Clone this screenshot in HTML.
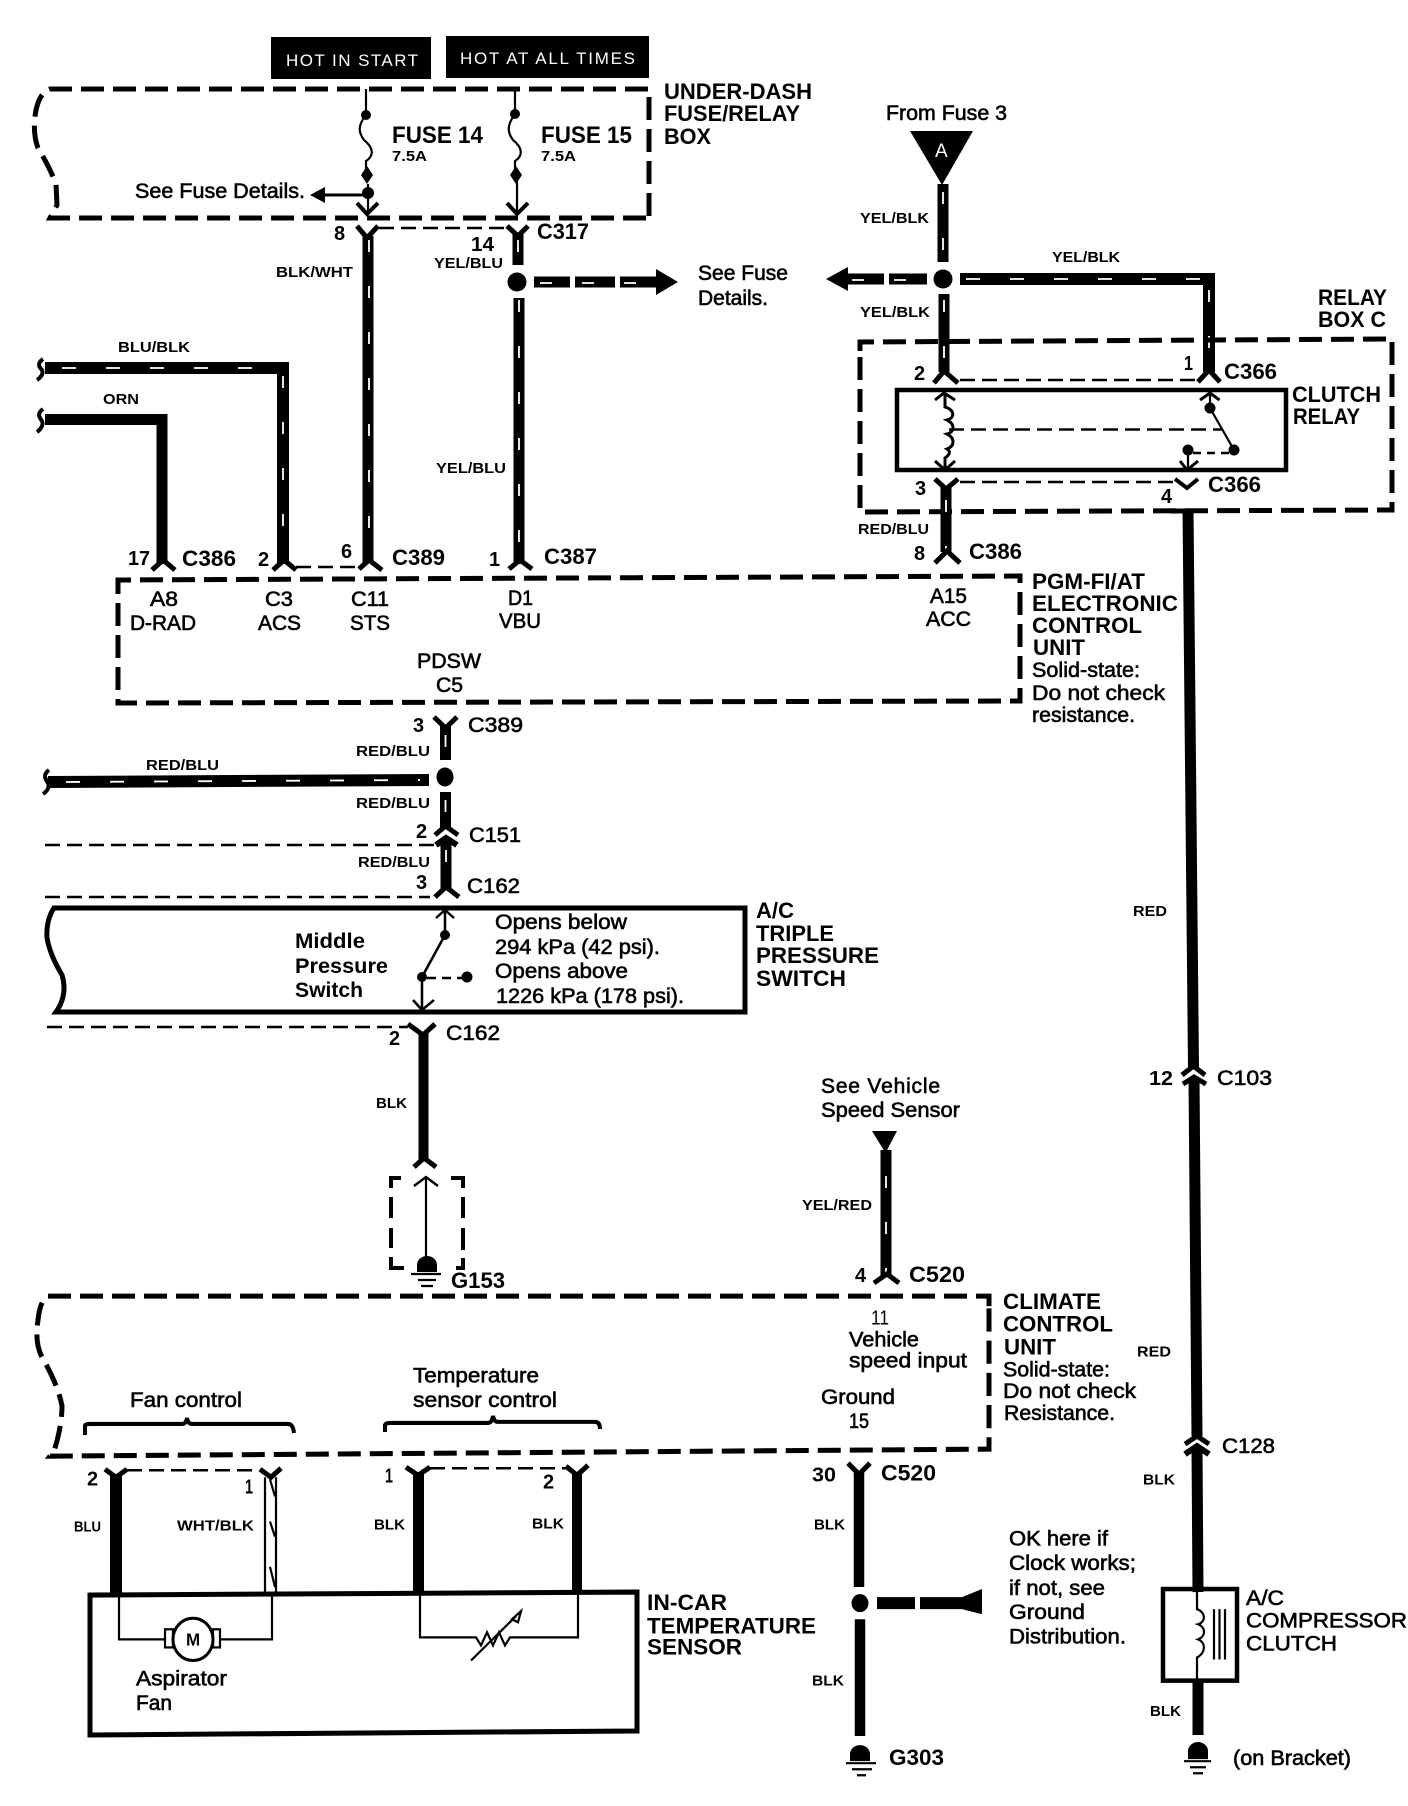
<!DOCTYPE html>
<html><head><meta charset="utf-8"><style>
html,body{margin:0;padding:0;background:#fff}
svg{display:block}
text{font-family:"Liberation Sans",sans-serif;fill:#000;font-size:21px}
.b{font-weight:bold;font-size:22px}
.l{font-weight:bold;font-size:15px}
.n{font-weight:bold;font-size:20px}
.r{stroke:#000;stroke-width:.6px}
.w{stroke:#000;stroke-width:11;fill:none}
.s{stroke:#fff;stroke-width:1.800;fill:none;stroke-dasharray:12 34}
.c{stroke:#000;stroke-width:4;fill:none}
.t{stroke:#000;stroke-width:2.2;fill:none}
.d{stroke:#000;stroke-width:5;fill:none;stroke-dasharray:23 9}
.h{stroke:#000;stroke-width:2.5;fill:none;stroke-dasharray:15 7}
.k{stroke:#000;stroke-width:4.5;fill:none}
</style></head><body>
<svg width="1408" height="1806" viewBox="0 0 1408 1806" xmlns="http://www.w3.org/2000/svg">
<rect width="1408" height="1806" fill="#fff"/>

<!-- header tags -->
<rect x="271" y="37" width="160" height="42"/>
<rect x="446" y="36" width="203" height="42"/>
<text x="286" y="66" style="fill:#fff;font-size:17px" textLength="132" lengthAdjust="spacing">HOT IN  START</text>
<text x="460" y="64" style="fill:#fff;font-size:17px" textLength="175" lengthAdjust="spacing">HOT AT ALL TIMES</text>

<!-- fuse box -->
<path class="d" d="M649 216 V89 H50 Q40 92 36 110 Q32 132 38 148 Q50 168 56 184 L57 205 L50 218 H649"/>
<path class="t" d="M366 89 V115 C358 125 358 132 364 140 C374 148 374 156 366 161 V175"/>
<circle cx="366" cy="115" r="5"/><path d="M367 166 l6 9 l-6 9 l-6 -9z"/><circle cx="368" cy="193" r="6"/>
<path class="t" d="M368 184 V214"/>
<path class="c" d="M357 203 L367 214 L378 203"/>
<path class="t" d="M515 89 V114 C507 125 507 132 513 140 C523 148 523 156 515 161 V175 M517 175 V214"/>
<circle cx="515" cy="114" r="5"/><path d="M516 166 l6 9 l-6 9 l-6 -9z"/>
<path class="c" d="M507 203 L517 214 L528 203"/>
<path d="M366 193.500 H325 V187 L310 195 L325 203 V196.500 H366z"/>
<text x="135" y="198" class="r" textLength="170" lengthAdjust="spacingAndGlyphs">See Fuse Details.</text>
<text x="392" y="143" style="font-weight:bold;font-size:24px" textLength="91" lengthAdjust="spacingAndGlyphs">FUSE 14</text>
<text x="392" y="161" style="font-weight:bold;font-size:15px" textLength="35" lengthAdjust="spacingAndGlyphs">7.5A</text>
<text x="541" y="143" style="font-weight:bold;font-size:24px" textLength="91" lengthAdjust="spacingAndGlyphs">FUSE 15</text>
<text x="541" y="161" style="font-weight:bold;font-size:15px" textLength="35" lengthAdjust="spacingAndGlyphs">7.5A</text>
<text x="664" y="99" class="b" textLength="148" lengthAdjust="spacingAndGlyphs">UNDER-DASH</text>
<text x="664" y="121" class="b" textLength="136" lengthAdjust="spacingAndGlyphs">FUSE/RELAY</text>
<text x="664" y="144" class="b" textLength="47" lengthAdjust="spacingAndGlyphs">BOX</text>

<!-- C317 -->
<path class="h" d="M379 228 H507"/>
<path class="c" style="stroke-width:5" d="M357 226 L367 238 L378 226"/>
<path class="c" style="stroke-width:5" d="M507 226 L518 236 L528 226"/>
<path class="w" d="M368 236 V564"/><path class="s" d="M369 240 V564"/>
<path class="w" d="M518 234 V265"/><path class="s" d="M518 240 V265"/>
<circle cx="517" cy="282" r="9.500"/>
<path class="w" d="M519 298 V564"/><path class="s" d="M519 300 V564"/>
<path d="M534 276.500 H570 V287.500 H534z M575 276.500 H615 V287.500 H575z M620 276.500 H656 V269 L678 282 L656 295 V287.500 H620z"/>
<path class="s" style="stroke-dasharray:12 30" d="M540 283 H650"/>
<text x="698" y="280" class="r" textLength="90" lengthAdjust="spacingAndGlyphs">See Fuse</text>
<text x="698" y="305" class="r" textLength="70" lengthAdjust="spacingAndGlyphs">Details.</text>
<text x="334" y="240" class="n">8</text>
<text x="471" y="251" class="n" textLength="23" lengthAdjust="spacingAndGlyphs">14</text>
<text x="537" y="239" class="b" textLength="52" lengthAdjust="spacingAndGlyphs">C317</text>
<text x="434" y="268" class="l" textLength="69" lengthAdjust="spacingAndGlyphs">YEL/BLU</text>
<text x="276" y="277" class="l" textLength="77" lengthAdjust="spacingAndGlyphs">BLK/WHT</text>
<text x="436" y="473" class="l" textLength="70" lengthAdjust="spacingAndGlyphs">YEL/BLU</text>

<!-- left wires -->
<path class="w" style="stroke-width:12" d="M45 368 H283 V564"/>
<path class="s" style="stroke-dasharray:14 30" d="M62 368 H270"/><path class="s" d="M283 376 V564"/>
<path class="c" d="M43 359 C36 364 40 368 42 370 C44 374 40 378 37 380"/>
<path class="w" d="M45 419.500 H162 V564"/>
<path class="c" d="M43 409 C36 414 40 418 42 421 C44 425 40 430 37 432"/>
<text x="118" y="352" class="l" textLength="72" lengthAdjust="spacingAndGlyphs">BLU/BLK</text>
<text x="103" y="404" class="l" textLength="36" lengthAdjust="spacingAndGlyphs">ORN</text>
<path class="c" style="stroke-width:5" d="M152 570 L163 560 L175 570"/>
<path class="c" style="stroke-width:5" d="M273 570 L284 560 L296 570"/>
<path class="c" style="stroke-width:5" d="M359 569 L369 560 L382 570"/>
<path class="c" style="stroke-width:5" d="M509 569 L520 560 L532 569"/>
<path class="h" d="M296 567 H363"/>
<text x="128" y="565" class="n" textLength="22" lengthAdjust="spacingAndGlyphs">17</text>
<text x="182" y="566" class="b" textLength="54" lengthAdjust="spacingAndGlyphs">C386</text>
<text x="258" y="566" class="n">2</text>
<text x="341" y="558" class="n">6</text>
<text x="392" y="565" class="b" textLength="53" lengthAdjust="spacingAndGlyphs">C389</text>
<text x="489" y="566" class="n">1</text>
<text x="544" y="564" class="b" textLength="53" lengthAdjust="spacingAndGlyphs">C387</text>

<!-- ECU -->
<path class="d" d="M118 590 V580 L1020 576 V701 L118 703 V590"/>
<text x="150" y="606" class="r" textLength="28" lengthAdjust="spacingAndGlyphs">A8</text>
<text x="130" y="630" class="r" textLength="66" lengthAdjust="spacingAndGlyphs">D-RAD</text>
<text x="265" y="606" class="r" textLength="28" lengthAdjust="spacingAndGlyphs">C3</text>
<text x="258" y="630" class="r" textLength="43" lengthAdjust="spacingAndGlyphs">ACS</text>
<text x="351" y="606" class="r" textLength="38" lengthAdjust="spacingAndGlyphs">C11</text>
<text x="350" y="630" class="r" textLength="40" lengthAdjust="spacingAndGlyphs">STS</text>
<text x="508" y="605" class="r" textLength="25" lengthAdjust="spacingAndGlyphs">D1</text>
<text x="499" y="628" class="r" textLength="42" lengthAdjust="spacingAndGlyphs">VBU</text>
<text x="417" y="668" class="r" textLength="64" lengthAdjust="spacingAndGlyphs">PDSW</text>
<text x="436" y="692" class="r" textLength="27" lengthAdjust="spacingAndGlyphs">C5</text>
<text x="930" y="603" class="r" textLength="37" lengthAdjust="spacingAndGlyphs">A15</text>
<text x="926" y="626" class="r" textLength="45" lengthAdjust="spacingAndGlyphs">ACC</text>
<text x="1032" y="589" class="b" textLength="113" lengthAdjust="spacingAndGlyphs">PGM-FI/AT</text>
<text x="1032" y="611" class="b" textLength="146" lengthAdjust="spacingAndGlyphs">ELECTRONIC</text>
<text x="1032" y="633" class="b" textLength="110" lengthAdjust="spacingAndGlyphs">CONTROL</text>
<text x="1033" y="655" class="b" textLength="52" lengthAdjust="spacingAndGlyphs">UNIT</text>
<text x="1032" y="677" class="r" textLength="108" lengthAdjust="spacingAndGlyphs">Solid-state:</text>
<text x="1032" y="700" class="r" textLength="133" lengthAdjust="spacingAndGlyphs">Do not check</text>
<text x="1032" y="722" class="r" textLength="103" lengthAdjust="spacingAndGlyphs">resistance.</text>

<!-- From fuse 3 -->
<text x="886" y="120" class="r" textLength="121" lengthAdjust="spacingAndGlyphs">From Fuse 3</text>
<path d="M910 131 H973 L942 185z"/>
<text x="935" y="157" style="fill:#fff;font-size:19px">A</text>
<path class="w" d="M943 184 V262"/><path class="s" d="M943 192 V262"/>
<circle cx="943" cy="279" r="9.500"/>
<path d="M826 279 L848 267 V273.500 H884 V284.500 H848 V291z M889 273.500 H927 V284.500 H889z"/>
<path class="s" style="stroke-dasharray:12 30" d="M852 280 H925"/>
<path class="w" style="stroke-width:12" d="M960 279 H1209 V372"/>
<path class="s" style="stroke-dasharray:14 30" d="M966 279 H1200"/><path class="s" d="M1209 290 V372"/>
<path class="w" d="M944 294 V372"/><path class="s" d="M944 300 V372"/>
<path class="c" style="stroke-width:5" d="M934 383 L944 371 L958 383"/>
<path class="c" style="stroke-width:5" d="M1198 382 L1209 370 L1220 382"/>
<path class="h" d="M960 380 H1198"/>
<text x="860" y="223" class="l" textLength="69" lengthAdjust="spacingAndGlyphs">YEL/BLK</text>
<text x="1052" y="262" class="l" textLength="68" lengthAdjust="spacingAndGlyphs">YEL/BLK</text>
<text x="860" y="317" class="l" textLength="70" lengthAdjust="spacingAndGlyphs">YEL/BLK</text>

<!-- relay box -->
<path class="d" d="M860 351 V342 L1392 339 V510 L860 512 V351"/>
<text x="1318" y="305" class="b" textLength="69" lengthAdjust="spacingAndGlyphs">RELAY</text>
<text x="1318" y="327" class="b" textLength="68" lengthAdjust="spacingAndGlyphs">BOX C</text>
<rect class="k" x="897" y="390" width="389" height="80"/>
<text x="1292" y="402" class="b" textLength="89" lengthAdjust="spacingAndGlyphs">CLUTCH</text>
<text x="1293" y="424" class="b" textLength="67" lengthAdjust="spacingAndGlyphs">RELAY</text>
<path class="c" style="stroke-width:3" d="M935 400 L944 393 L955 400 M935 461 L945 470 L955 461"/>
<path class="t" style="stroke-width:3" d="M945 393 V407 C955 410 955 418 947 420 C955 424 955 432 947 434 C955 438 955 446 947 449 C952 452 948 456 945 458 V469"/>
<path class="h" d="M949 429.500 H1222"/>
<path class="c" style="stroke-width:3" d="M1200 400 L1210 393 L1219.500 400 M1180 461 L1187 470 L1198 461"/>
<path class="t" d="M1210 393 V408 L1234 450"/>
<circle cx="1210" cy="408" r="5.500"/><circle cx="1234" cy="450" r="5.500"/><circle cx="1188" cy="450" r="5.500"/>
<path class="t" d="M1188 450 V468"/>
<path class="h" style="stroke-dasharray:8 6" d="M1193 453 H1230"/>
<text x="914" y="380" class="n">2</text>
<text x="1184" y="370" class="n" textLength="9" lengthAdjust="spacingAndGlyphs">1</text>
<text x="1224" y="379" class="b" textLength="53" lengthAdjust="spacingAndGlyphs">C366</text>
<text x="915" y="495" class="n">3</text>
<text x="1208" y="492" class="b" textLength="53" lengthAdjust="spacingAndGlyphs">C366</text>
<text x="1161" y="503" class="n">4</text>
<path class="c" style="stroke-width:5" d="M935 479 L946 489 L958 479"/>
<path class="h" d="M960 482 H1175"/>
<path class="c" d="M1175 479 L1187 488 L1198 479"/>
<path class="w" d="M946 487 V552"/><path class="s" d="M946 500 V552"/>
<path class="c" style="stroke-width:5" d="M935 563 L947 551 L960 563"/>
<text x="858" y="534" class="l" textLength="71" lengthAdjust="spacingAndGlyphs">RED/BLU</text>
<text x="914" y="560" class="n">8</text>
<text x="969" y="559" class="b" textLength="53" lengthAdjust="spacingAndGlyphs">C386</text>

<!-- RED wire upper -->
<path class="t" style="stroke-width:5" d="M1170 511 H1188"/>
<path class="w" d="M1188 509 L1193.500 1068"/>
<path class="c" style="stroke-width:5" d="M1182 1075 L1193.500 1066 L1205 1075"/>
<path class="c" style="stroke-width:5" d="M1183 1084 L1194 1077 L1206 1084"/>
<path class="w" d="M1194 1079 L1197 1436"/>
<text x="1133" y="916" class="l" textLength="34" lengthAdjust="spacingAndGlyphs">RED</text>
<text x="1149" y="1085" class="n" textLength="24" lengthAdjust="spacingAndGlyphs">12</text>
<text x="1217" y="1085" class="r" textLength="55" lengthAdjust="spacingAndGlyphs">C103</text>

<!-- C389 lower -->
<path class="c" style="stroke-width:5" d="M434 717 L445.500 728 L457 717"/>
<path class="w" d="M445.500 726 V760"/><path class="s" d="M445.500 735 V760"/>
<ellipse cx="445" cy="777" rx="8.500" ry="9.500"/>
<path class="w" style="stroke-width:12" d="M48 782 L429 780"/>
<path class="s" style="stroke-dasharray:14 30" d="M66 782 L420 780"/>
<path class="c" d="M49 770 C42 775 46 780 48 783 C50 788 46 792 43 794"/>
<text x="413" y="732" class="n">3</text>
<text x="468" y="732" class="r" textLength="55" lengthAdjust="spacingAndGlyphs">C389</text>
<text x="356" y="756" class="l" textLength="74" lengthAdjust="spacingAndGlyphs">RED/BLU</text>
<text x="146" y="770" class="l" textLength="73" lengthAdjust="spacingAndGlyphs">RED/BLU</text>
<text x="356" y="808" class="l" textLength="74" lengthAdjust="spacingAndGlyphs">RED/BLU</text>
<path class="w" d="M445.500 792 V828"/><path class="s" d="M445.500 800 V828"/>
<path class="c" style="stroke-width:5" d="M435 835 L445.500 826 L458 835"/>
<text x="416" y="838" class="n">2</text>
<text x="469" y="842" class="r" textLength="52" lengthAdjust="spacingAndGlyphs">C151</text>
<path class="c" style="stroke-width:6" d="M436 845 L446 838 L457 845"/>
<path class="w" d="M446 840 V890"/><path class="s" d="M446 850 V890"/>
<path class="c" style="stroke-width:5" d="M435 897 L446 887 L459 897"/>
<text x="358" y="867" class="l" textLength="72" lengthAdjust="spacingAndGlyphs">RED/BLU</text>
<text x="416" y="889" class="n">3</text>
<text x="467" y="893" class="r" textLength="53" lengthAdjust="spacingAndGlyphs">C162</text>
<path class="h" d="M45 845 H436"/>
<path class="h" d="M45 897 H430"/>

<!-- triple switch -->
<path class="k" style="stroke-width:5" d="M745 908 H54 Q46 920 47 938 Q50 955 62 975 Q68 995 56 1012 H745z"/>
<path class="c" style="stroke-width:2.500" d="M436 918 L445 910 L454 918"/>
<path class="t" style="stroke-width:2.500" d="M445 910 V935 L422 977 V1009"/>
<circle cx="445" cy="935" r="5"/><circle cx="422" cy="977" r="5"/><circle cx="467" cy="977" r="5.500"/>
<path class="h" style="stroke-dasharray:9 6" d="M427 978 H463"/>
<path class="c" style="stroke-width:2.500" d="M413 1000 L422 1010 L434 1000"/>
<text x="295" y="948" class="b" style="font-size:21px" textLength="70" lengthAdjust="spacingAndGlyphs">Middle</text>
<text x="295" y="973" class="b" style="font-size:21px" textLength="93" lengthAdjust="spacingAndGlyphs">Pressure</text>
<text x="295" y="997" class="b" style="font-size:21px" textLength="68" lengthAdjust="spacingAndGlyphs">Switch</text>
<text x="495" y="929" class="r" textLength="132" lengthAdjust="spacingAndGlyphs">Opens below</text>
<text x="495" y="954" class="r" textLength="165" lengthAdjust="spacingAndGlyphs">294 kPa (42 psi).</text>
<text x="495" y="978" class="r" textLength="133" lengthAdjust="spacingAndGlyphs">Opens above</text>
<text x="496" y="1003" class="r" textLength="188" lengthAdjust="spacingAndGlyphs">1226 kPa (178 psi).</text>
<text x="756" y="918" class="b" textLength="38" lengthAdjust="spacingAndGlyphs">A/C</text>
<text x="756" y="941" class="b" textLength="78" lengthAdjust="spacingAndGlyphs">TRIPLE</text>
<text x="756" y="963" class="b" textLength="123" lengthAdjust="spacingAndGlyphs">PRESSURE</text>
<text x="756" y="986" class="b" textLength="90" lengthAdjust="spacingAndGlyphs">SWITCH</text>

<!-- C162 below -->
<path class="h" d="M47 1027 H408"/>
<path class="c" style="stroke-width:5" d="M408 1024 L423 1035 L435 1024"/>
<path class="w" style="stroke-width:10" d="M423.500 1032 V1161"/>
<path class="c" style="stroke-width:5" d="M414 1167 L424 1158 L436 1167"/>
<text x="389" y="1045" class="n">2</text>
<text x="446" y="1040" class="r" textLength="54" lengthAdjust="spacingAndGlyphs">C162</text>
<text x="376" y="1108" class="l" textLength="31" lengthAdjust="spacingAndGlyphs">BLK</text>
<path class="c" d="M391 1188 V1178 H401 M391 1197 V1218 M391 1228 V1248 M391 1257 V1268 H404 M451 1178 H463 V1188 M463 1197 V1218 M463 1228 V1250 M463 1258 V1268 H456"/>
<path class="c" style="stroke-width:2.500" d="M414 1186 L426 1177 L438 1186"/>
<path class="t" d="M426 1177 V1260"/>
<path d="M417 1272 V1265 A10 9 0 0 1 437 1265 V1272z"/>
<path class="t" d="M411 1274 H441 M418 1280 H436 M421 1286 H433"/>
<text x="451" y="1288" class="b" textLength="54" lengthAdjust="spacingAndGlyphs">G153</text>

<!-- speed -->
<text x="821" y="1093" class="r" textLength="119" lengthAdjust="spacing">See  Vehicle</text>
<text x="821" y="1117" class="r" textLength="139" lengthAdjust="spacingAndGlyphs">Speed Sensor</text>
<path d="M872 1131 H897 L885.500 1153z"/>
<path class="w" d="M886 1150 V1277"/><path class="s" d="M886 1176 V1277"/>
<path class="c" style="stroke-width:5" d="M874 1283 L887 1274 L899 1283"/>
<text x="802" y="1210" class="l" textLength="70" lengthAdjust="spacingAndGlyphs">YEL/RED</text>
<text x="855" y="1282" class="n">4</text>
<text x="909" y="1282" class="b" textLength="56" lengthAdjust="spacingAndGlyphs">C520</text>

<!-- lower region: slight vertical correction -->
<g transform="translate(0,-8.600) scale(1,1.0067)">
<path class="c" style="stroke-width:5" d="M1185 1443 L1197 1435 L1209 1443"/>
<path class="c" style="stroke-width:6" d="M1185 1453 L1197 1445 L1209 1453"/>
<path class="w" d="M1197 1447 L1198 1590"/>
<path class="w" d="M1198 1678 V1732"/>
<text x="1137" y="1356" class="l" textLength="34" lengthAdjust="spacingAndGlyphs">RED</text>
<text x="1143" y="1483" class="l" textLength="32" lengthAdjust="spacingAndGlyphs">BLK</text>
<text x="1222" y="1452" class="r" textLength="53" lengthAdjust="spacingAndGlyphs">C128</text>

<!-- compressor -->
<rect class="k" x="1163" y="1587" width="74" height="91"/>
<path class="t" d="M1197 1587 V1607 C1206 1610 1206 1620 1198 1622 C1206 1625 1206 1634 1198 1637 C1206 1640 1206 1650 1197 1655 V1678"/>
<path class="t" d="M1214 1607 V1657 M1219.500 1607 V1657 M1225 1607 V1657"/>
<text x="1246" y="1603" class="r" textLength="38" lengthAdjust="spacingAndGlyphs">A/C</text>
<text x="1246" y="1625" class="r" textLength="161" lengthAdjust="spacingAndGlyphs">COMPRESSOR</text>
<text x="1246" y="1648" class="r" textLength="91" lengthAdjust="spacingAndGlyphs">CLUTCH</text>
<text x="1150" y="1713" class="l" textLength="31" lengthAdjust="spacingAndGlyphs">BLK</text>
<path d="M1188 1756 V1748 A10 9 0 0 1 1208 1748 V1756z"/>
<path class="t" d="M1184 1758 H1211 M1190 1764 H1206 M1193 1770 H1203"/>
<text x="1233" y="1762" class="r" textLength="118" lengthAdjust="spacingAndGlyphs">(on Bracket)</text>

<!-- climate -->
<path class="d" d="M989 1306 V1296 H48 Q40 1300 38 1320 Q34 1345 44 1360 Q58 1385 62 1405 Q62 1425 54 1450 L50 1455 L989 1448 V1306"/>
<text x="871" y="1324" class="n" style="font-weight:normal" textLength="18" lengthAdjust="spacingAndGlyphs">11</text>
<text x="849" y="1346" class="r" textLength="70" lengthAdjust="spacingAndGlyphs">Vehicle</text>
<text x="849" y="1367" class="r" textLength="118" lengthAdjust="spacingAndGlyphs">speed input</text>
<text x="821" y="1403" class="r" textLength="74" lengthAdjust="spacingAndGlyphs">Ground</text>
<text x="849" y="1427" class="r" textLength="20" lengthAdjust="spacingAndGlyphs">15</text>
<text x="1003" y="1309" class="b" textLength="98" lengthAdjust="spacingAndGlyphs">CLIMATE</text>
<text x="1003" y="1331" class="b" textLength="110" lengthAdjust="spacingAndGlyphs">CONTROL</text>
<text x="1004" y="1354" class="b" textLength="52" lengthAdjust="spacingAndGlyphs">UNIT</text>
<text x="1003" y="1376" class="r" textLength="107" lengthAdjust="spacingAndGlyphs">Solid-state:</text>
<text x="1003" y="1397" class="r" textLength="133" lengthAdjust="spacingAndGlyphs">Do not check</text>
<text x="1004" y="1419" class="r" textLength="111" lengthAdjust="spacingAndGlyphs">Resistance.</text>
<text x="130" y="1406" class="r" textLength="112" lengthAdjust="spacingAndGlyphs">Fan control</text>
<text x="413" y="1382" class="r" textLength="126" lengthAdjust="spacingAndGlyphs">Temperature</text>
<text x="413" y="1406" class="r" textLength="144" lengthAdjust="spacingAndGlyphs">sensor control</text>
<path class="c" d="M85 1434 V1425 Q85 1423 90 1423 H182 Q186 1423 187 1417 Q188 1423 192 1423 H288 Q293 1423 294 1432"/>
<path class="c" d="M385 1431 V1424 Q386 1422 390 1422 H488 Q492 1422 493 1415 Q494 1421 498 1421 H595 Q600 1421 600 1428"/>

<!-- C520 ground -->
<path class="c" style="stroke-width:5" d="M848 1462 L859 1473 L870 1462"/>
<path class="w" style="stroke-width:10.500" d="M859 1470 V1585"/>
<ellipse cx="860" cy="1601" rx="8.500" ry="9"/>
<path class="w" style="stroke-width:10.500" d="M860 1617 V1733"/>
<text x="812" y="1480" class="n" textLength="24" lengthAdjust="spacingAndGlyphs">30</text>
<text x="881" y="1479" class="b" textLength="55" lengthAdjust="spacingAndGlyphs">C520</text>
<text x="814" y="1528" class="l" textLength="31" lengthAdjust="spacingAndGlyphs">BLK</text>
<text x="812" y="1683" class="l" textLength="32" lengthAdjust="spacingAndGlyphs">BLK</text>
<path d="M877 1595 H915 V1607 H877z M920 1595 H962 L982 1587 V1612 L962 1607 H920z"/>
<text x="1009" y="1544" class="r" textLength="99" lengthAdjust="spacingAndGlyphs">OK here if</text>
<text x="1009" y="1568" class="r" textLength="127" lengthAdjust="spacingAndGlyphs">Clock works;</text>
<text x="1009" y="1593" class="r" textLength="96" lengthAdjust="spacingAndGlyphs">if not, see</text>
<text x="1009" y="1617" class="r" textLength="76" lengthAdjust="spacingAndGlyphs">Ground</text>
<text x="1009" y="1641" class="r" textLength="117" lengthAdjust="spacingAndGlyphs">Distribution.</text>
<path d="M850 1758 V1751 A10 9 0 0 1 870 1751 V1758z"/>
<path class="t" d="M846 1760 H876 M852 1766 H872 M857 1772 H866"/>
<text x="889" y="1762" class="b" textLength="55" lengthAdjust="spacingAndGlyphs">G303</text>

<!-- in-car sensor -->
<path class="c" style="stroke-width:5" d="M105 1468 L116 1476 L127 1468"/>
<path class="c" style="stroke-width:5" d="M260 1468 L271 1476 L281 1467"/>
<path class="h" d="M127 1469 H258"/>
<path class="w" style="stroke-width:12" d="M116 1474 V1594"/>
<path class="t" d="M265 1476 V1590 M276 1476 V1590 M270 1478 L275 1495 M270 1520 L275 1535 M270 1565 L275 1585"/>
<text x="87" y="1484" class="n">2</text>
<text x="245" y="1492" class="n" textLength="8" lengthAdjust="spacingAndGlyphs">1</text>
<text x="74" y="1530" class="l" textLength="27" lengthAdjust="spacingAndGlyphs">BLU</text>
<text x="177" y="1529" class="l" textLength="77" lengthAdjust="spacingAndGlyphs">WHT/BLK</text>
<path class="c" style="stroke-width:5" d="M406 1466 L418 1474 L430 1466"/>
<path class="c" style="stroke-width:5" d="M566 1465 L577 1474 L588 1464"/>
<path class="h" d="M430 1467 H566"/>
<path class="w" d="M418.500 1472 V1592"/>
<path class="w" style="stroke-width:10" d="M577 1472 V1590"/>
<text x="385" y="1481" class="n" textLength="8" lengthAdjust="spacingAndGlyphs">1</text>
<text x="543" y="1487" class="n">2</text>
<text x="374" y="1528" class="l" textLength="31" lengthAdjust="spacingAndGlyphs">BLK</text>
<text x="532" y="1527" class="l" textLength="32" lengthAdjust="spacingAndGlyphs">BLK</text>
<path class="k" style="stroke-width:5" d="M90 1593 L637 1590 V1728 L90 1732z"/>
<path class="t" d="M119 1593 V1637 H165 M220 1637 H272 V1592"/>
<ellipse class="t" style="stroke-width:3" cx="193" cy="1637" rx="20" ry="21" fill="none"/>
<rect class="t" x="165" y="1627" width="8" height="18"/>
<rect class="t" x="213" y="1627" width="7" height="18"/>
<text x="186" y="1643" style="font-weight:bold;font-size:17px">M</text>
<path class="t" d="M420 1592 V1635 H476 L481 1643 L487 1630 L493 1643 L499 1630 L505 1643 L510 1635 H578 V1592"/>
<path class="t" d="M471 1658 L516 1614"/>
<path d="M512 1617 L521 1609 L518 1620z" class="t"/>
<text x="136" y="1683" class="r" textLength="91" lengthAdjust="spacingAndGlyphs">Aspirator</text>
<text x="136" y="1707" class="r" textLength="36" lengthAdjust="spacingAndGlyphs">Fan</text>
<text x="647" y="1608" class="b" textLength="80" lengthAdjust="spacingAndGlyphs">IN-CAR</text>
<text x="647" y="1631" class="b" textLength="169" lengthAdjust="spacingAndGlyphs">TEMPERATURE</text>
<text x="647" y="1652" class="b" textLength="95" lengthAdjust="spacingAndGlyphs">SENSOR</text>
</g>
</svg>
</body></html>
